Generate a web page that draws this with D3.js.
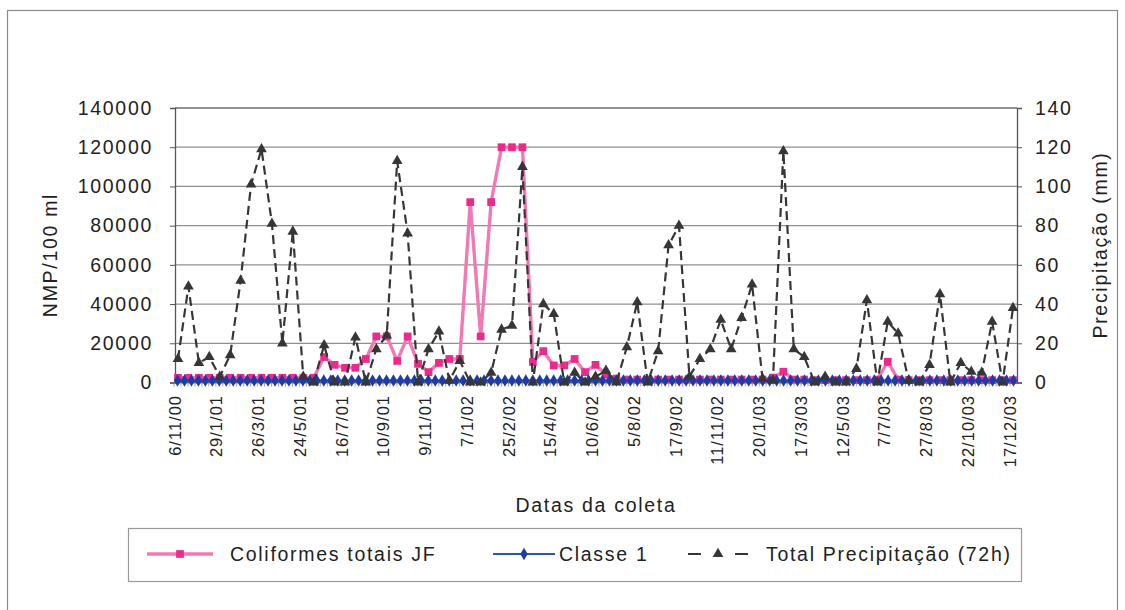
<!DOCTYPE html>
<html><head><meta charset="utf-8">
<script src="https://cdn.jsdelivr.net/npm/d3@7"></script>
<style>
body{margin:0;background:#fff}
text{font-family:"Liberation Sans",Arial,sans-serif;fill:#222}
</style>
</head><body>
<svg id="c" width="1125" height="610"></svg>
<script>
// ---- data ----
const tickLabels = ["6/11/00","29/1/01","26/3/01","24/5/01","16/7/01","10/9/01","9/11/01","7/1/02","25/2/02","15/4/02","10/6/02","5/8/02","17/9/02","11/11/02","20/1/03","17/3/03","12/5/03","7/7/03","27/8/03","22/10/03","17/12/03"];
const precipitacao = [12,49,10,13,3,14,52,101,119,81,20,77,3,0,19,0,0,23,0,17,24,113,76,0,17,26,1,11,0,0,5,27,29,110,0,40,35,0,5,0,3,6,0,18,41,0,16,70,80,3,12,17,32,17,33,50,2,1,118,17,13,0,3,0,0,7,42,0,31,25,1,0,9,45,0,10,5.5,5,31,0,38];
const coliformes = [2400,2400,2400,2400,2400,2400,2400,2400,2400,2400,2400,2400,2400,2400,13000,9000,7500,7500,12000,23500,23500,11000,23500,9500,5300,10000,12000,12000,92000,23500,92000,120000,120000,120000,10500,16000,8700,8700,12000,5300,9000,4000,2000,1500,1500,1500,1500,1500,1500,1500,1500,1500,1500,1500,1500,1500,1500,2500,5500,1500,1500,1200,1200,1200,1200,1200,1200,1500,10600,1500,1200,1200,1200,1200,1200,1200,1200,1200,1200,1200,1200];
const classe1 = [1000,1000,1000,1000,1000,1000,1000,1000,1000,1000,1000,1000,1000,1000,1000,1000,1000,1000,1000,1000,1000,1000,1000,1000,1000,1000,1000,1000,1000,1000,1000,1000,1000,1000,1000,1000,1000,1000,1000,1000,1000,1000,1000,1000,1000,1000,1000,1000,1000,1000,1000,1000,1000,1000,1000,1000,1000,1000,1000,1000,1000,1000,1000,1000,1000,1000,1000,1000,1000,1000,1000,1000,1000,1000,1000,1000,1000,1000,1000,1000,1000,1000,1000,1000,1000,1000,1000,1000,1000,1000,1000,1000,1000,1000,1000,1000,1000,1000,1000,1000,1000,1000,1000,1000,1000,1000,1000,1000,1000,1000,1000,1000,1000,1000,1000,1000,1000,1000,1000,1000,1000];
const yTicksLeft = [0,20000,40000,60000,80000,100000,120000,140000];
const yTicksRight = [0,20,40,60,80,100,120,140];
const seriesNames = ["Coliformes totais JF","Classe 1","Total Precipitação (72h)"];

// ---- layout ----
const svg = d3.select("#c");
const L = 175, R = 1017, T = 108, B = 382.5;
const FS = "19.5px", LS = "1.7px";

svg.append("rect").attr("x",7.5).attr("y",10.5).attr("width",1110).attr("height",610)
  .attr("fill","#fff").attr("stroke","#8a8a8a").attr("stroke-width",1.2);

const xP = d3.scalePoint().domain(d3.range(precipitacao.length)).range([178,1013]);
const xC = d3.scalePoint().domain(d3.range(classe1.length)).range([177.5,1013.5]);
const xT = d3.scalePoint().domain(tickLabels).range([174.5,1009.5]);
const yL = d3.scaleLinear().domain([0,140000]).range([B,T]);
const yR = d3.scaleLinear().domain([0,140]).range([B,T]);

// gridlines
svg.append("g").selectAll("line").data(yTicksLeft).join("line")
  .attr("x1",L).attr("x2",R).attr("y1",d=>yL(d)).attr("y2",d=>yL(d))
  .attr("stroke",d=>d===140000?"#6e6e6e":"#8f8f8f").attr("stroke-width",1.3);

// left axis
const gL = svg.append("g").attr("transform",`translate(${L},0)`)
  .call(d3.axisLeft(yL).tickValues(yTicksLeft).tickFormat(d3.format("d")).tickSize(5).tickPadding(17));
gL.select(".domain").attr("stroke","#555").attr("stroke-width",1.3);
gL.selectAll(".tick line").attr("stroke","#555");
gL.selectAll("text").style("font-size",FS).style("letter-spacing",LS).attr("fill","#222")
  .style("font-family","'Liberation Sans',Arial,sans-serif");

// right axis
const gR = svg.append("g").attr("transform",`translate(${R},0)`)
  .call(d3.axisRight(yR).tickValues(yTicksRight).tickSize(5).tickPadding(13));
gR.select(".domain").attr("stroke","#555").attr("stroke-width",1.3);
gR.selectAll(".tick line").attr("stroke","#555");
gR.selectAll("text").style("font-size",FS).style("letter-spacing",LS).attr("fill","#222")
  .style("font-family","'Liberation Sans',Arial,sans-serif");

// x axis line + minor ticks
svg.append("line").attr("x1",L).attr("x2",R).attr("y1",B).attr("y2",B).attr("stroke","#555").attr("stroke-width",1.3);
const stepC = xC.step();
svg.append("g").selectAll("line").data(classe1.map((d,i)=>i)).join("line")
  .attr("x1",i=>xC(i)-stepC/2).attr("x2",i=>xC(i)-stepC/2)
  .attr("y1",B).attr("y2",B+4).attr("stroke","#888").attr("stroke-width",0.8);

// x tick labels
svg.append("g").selectAll("text").data(tickLabels).join("text")
  .attr("transform",d=>`translate(${xT(d)},395) rotate(-90)`)
  .attr("text-anchor","end").attr("dominant-baseline","central")
  .style("font-size","16.5px").style("letter-spacing","1px").text(d=>d);

// axis titles
svg.append("text").attr("transform","translate(50,255) rotate(-90)")
  .attr("text-anchor","middle").attr("dominant-baseline","central")
  .style("font-size",FS).style("letter-spacing",LS).text("NMP/100 ml");
svg.append("text").attr("transform","translate(1100,245) rotate(-90)")
  .attr("text-anchor","middle").attr("dominant-baseline","central")
  .style("font-size",FS).style("letter-spacing",LS).text("Precipitação (mm)");
svg.append("text").attr("x",596).attr("y",505)
  .attr("text-anchor","middle").attr("dominant-baseline","central")
  .style("font-size",FS).style("letter-spacing",LS).text("Datas da coleta");

// series colours
const PINK_LINE = "#f27ab4", PINK = "#eb2b8c", BLUE_LINE = "#2a55b8", BLUE = "#1d3ca9", DARK = "#363636";

// coliformes
svg.append("path").datum(coliformes)
  .attr("d",d3.line().x((d,i)=>xP(i)).y(d=>yL(d)))
  .attr("fill","none").attr("stroke",PINK_LINE).attr("stroke-width",3.4).attr("stroke-linejoin","round");
svg.append("g").selectAll("path").data(coliformes).join("path")
  .attr("d",d3.symbol(d3.symbolSquare,60))
  .attr("transform",(d,i)=>`translate(${xP(i)},${yL(d)})`).attr("fill",PINK);

// classe 1
svg.append("path").datum(classe1)
  .attr("d",d3.line().x((d,i)=>xC(i)).y(d=>yL(d)))
  .attr("fill","none").attr("stroke",BLUE_LINE).attr("stroke-width",2.2);
svg.append("g").selectAll("path").data(classe1).join("path")
  .attr("d",d3.symbol(d3.symbolDiamond,46))
  .attr("transform",(d,i)=>`translate(${xC(i)},${yL(d)})`).attr("fill",BLUE);

// precipitação
svg.append("path").datum(precipitacao)
  .attr("d",d3.line().x((d,i)=>xP(i)).y(d=>yR(d)))
  .attr("fill","none").attr("stroke",DARK).attr("stroke-width",2.2).attr("stroke-dasharray","9,5");
svg.append("g").selectAll("path").data(precipitacao).join("path")
  .attr("d",d3.symbol(d3.symbolTriangle,50))
  .attr("transform",(d,i)=>`translate(${xP(i)},${yR(d)})`).attr("fill",DARK);

// legend
const lg = svg.append("g");
lg.append("rect").attr("x",128.5).attr("y",528.5).attr("width",893).attr("height",53)
  .attr("fill","#fff").attr("stroke","#9a9a9a").attr("stroke-width",1.2);
const cy = 554;
lg.append("line").attr("x1",147).attr("x2",213).attr("y1",cy).attr("y2",cy).attr("stroke",PINK_LINE).attr("stroke-width",3.4);
lg.append("path").attr("d",d3.symbol(d3.symbolSquare,60)).attr("transform",`translate(180,${cy})`).attr("fill",PINK);
lg.append("text").attr("x",230).attr("y",cy).attr("dominant-baseline","central")
  .style("font-size",FS).style("letter-spacing",LS).text(seriesNames[0]);
lg.append("line").attr("x1",493).attr("x2",555).attr("y1",cy).attr("y2",cy).attr("stroke",BLUE_LINE).attr("stroke-width",2.2);
lg.append("path").attr("d",d3.symbol(d3.symbolDiamond,46)).attr("transform",`translate(524,${cy})`).attr("fill",BLUE);
lg.append("text").attr("x",559).attr("y",cy).attr("dominant-baseline","central")
  .style("font-size",FS).style("letter-spacing",LS).text(seriesNames[1]);
lg.append("line").attr("x1",688).attr("x2",748).attr("y1",cy).attr("y2",cy).attr("stroke",DARK).attr("stroke-width",2.2).attr("stroke-dasharray","13,34,13");
lg.append("path").attr("d",d3.symbol(d3.symbolTriangle,50)).attr("transform",`translate(718,${cy})`).attr("fill",DARK);
lg.append("text").attr("x",766).attr("y",cy).attr("dominant-baseline","central")
  .style("font-size",FS).style("letter-spacing",LS).text(seriesNames[2]);
</script>
</body></html>
